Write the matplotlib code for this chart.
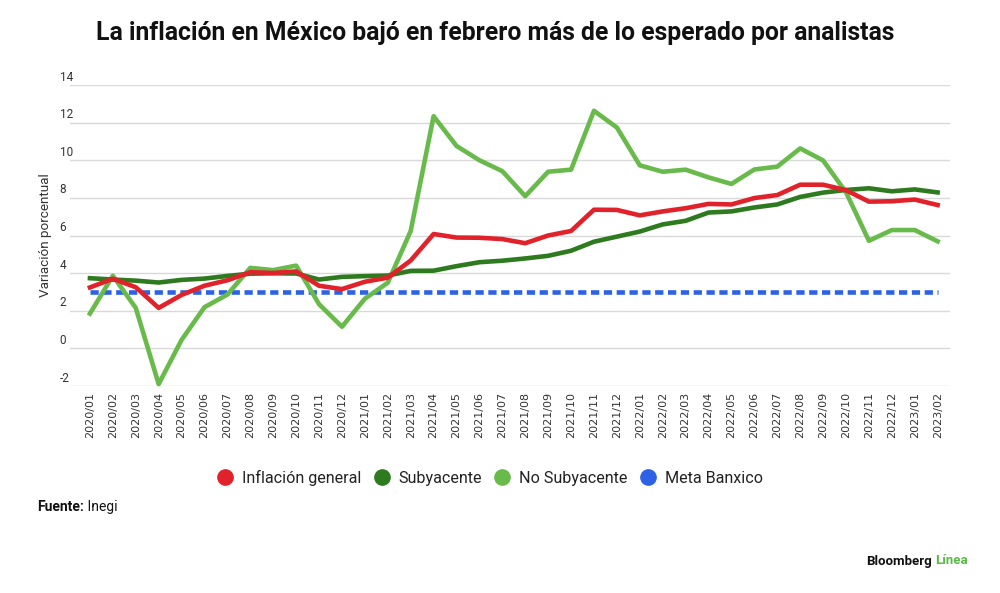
import matplotlib
matplotlib.use("Agg")
import matplotlib.pyplot as plt
from matplotlib.lines import Line2D
import matplotlib.transforms as mtransforms

months = ["2020/01","2020/02","2020/03","2020/04","2020/05","2020/06","2020/07","2020/08",
          "2020/09","2020/10","2020/11","2020/12","2021/01","2021/02","2021/03","2021/04",
          "2021/05","2021/06","2021/07","2021/08","2021/09","2021/10","2021/11","2021/12",
          "2022/01","2022/02","2022/03","2022/04","2022/05","2022/06","2022/07","2022/08",
          "2022/09","2022/10","2022/11","2022/12","2023/01","2023/02"]

inflacion_general = [3.24, 3.70, 3.25, 2.15, 2.84, 3.33, 3.62, 4.05, 4.01, 4.09, 3.33, 3.15,
                     3.54, 3.76, 4.67, 6.08, 5.89, 5.88, 5.81, 5.59, 6.00, 6.24, 7.37, 7.36,
                     7.07, 7.28, 7.45, 7.68, 7.65, 7.99, 8.15, 8.70, 8.70, 8.41, 7.80, 7.82,
                     7.91, 7.62]

subyacente = [3.73, 3.66, 3.60, 3.50, 3.64, 3.71, 3.85, 3.97, 3.99, 3.98, 3.66, 3.80,
              3.84, 3.87, 4.12, 4.13, 4.37, 4.58, 4.66, 4.78, 4.92, 5.19, 5.67, 5.94,
              6.21, 6.59, 6.78, 7.22, 7.28, 7.49, 7.65, 8.05, 8.28, 8.42, 8.51, 8.35,
              8.45, 8.29]

no_subyacente = [1.85, 3.86, 2.15, -1.90, 0.45, 2.19, 2.86, 4.28, 4.16, 4.40, 2.35, 1.15,
                 2.64, 3.49, 6.24, 12.34, 10.76, 10.00, 9.42, 8.09, 9.39, 9.50, 12.63, 11.74,
                 9.73, 9.39, 9.50, 9.09, 8.74, 9.51, 9.66, 10.63, 9.99, 8.30, 5.72, 6.29,
                 6.29, 5.69]

meta_banxico = [3.0] * len(months)

y_ticks = [-2, 0, 2, 4, 6, 8, 10, 12, 14]
series_names = ["Inflación general", "Subyacente", "No Subyacente", "Meta Banxico"]

RED = "#e2222b"
DGREEN = "#2e7b1f"
LGREEN = "#68bb4b"
BLUE = "#2d62e6"
GRID = "#d9d9d9"
TXT = "#333333"

plt.rcParams['font.family'] = ['Roboto', 'DejaVu Sans']

fig = plt.figure(figsize=(10, 5.93), dpi=100)
ax = fig.add_axes([0.07, 1 - 386/593, 0.88, (386 - 85)/593])

x = list(range(len(months)))
lw = 3.3
ax.plot(x, meta_banxico, color=BLUE, lw=lw, dashes=(1.8, 1.0), solid_capstyle='butt', zorder=2)
ax.plot(x, no_subyacente, color=LGREEN, lw=lw, solid_joinstyle='round', zorder=3, clip_on=False)
ax.plot(x, subyacente, color=DGREEN, lw=lw, solid_joinstyle='round', zorder=4, clip_on=False)
ax.plot(x, inflacion_general, color=RED, lw=lw, solid_joinstyle='round', zorder=5, clip_on=False)

ax.set_xlim(-0.87, len(months) - 1 + 0.54)
ax.set_ylim(-2, 14)

ax.set_yticks(y_ticks)
ax.set_yticklabels([str(t) for t in y_ticks])
ax.grid(axis='y', color=GRID, lw=1.0, zorder=0)
ax.set_axisbelow(True)
for s in ax.spines.values():
    s.set_visible(False)
ax.tick_params(axis='y', length=0, pad=7.5, labelsize=8.5, labelcolor=TXT)
offset = mtransforms.ScaledTranslation(0, 1/72, fig.dpi_scale_trans)
for lab in ax.get_yticklabels():
    lab.set_ha('left')
    lab.set_va('bottom')
    lab.set_transform(lab.get_transform() + offset)

ax.set_xticks(x)
ax.set_xticklabels(months, rotation=90, fontsize=8, color=TXT, family='DejaVu Sans')
ax.tick_params(axis='x', length=0, pad=4)

fig.text(0.045, 1 - 235/593, "Variación porcentual", rotation=90, ha='center', va='center',
         fontsize=9.7, color=TXT)

fig.text(0.495, 1 - 33/593, "La inflación en México bajó en febrero más de lo esperado por analistas",
         ha='center', va='center', fontsize=17.8, fontweight='bold', color='#111111')

handles = [Line2D([], [], marker='o', ls='none', markersize=11, markerfacecolor=c, markeredgecolor=c)
           for c in [RED, DGREEN, LGREEN, BLUE]]
fig.legend(handles, series_names, loc='center', bbox_to_anchor=(0.49, 1 - 478/593), ncol=4,
           frameon=False, fontsize=11.6, handletextpad=0.55, columnspacing=0.75, handlelength=1.0,
           labelcolor='#222222')

t1 = fig.text(0.037, 1 - 507/593, "Fuente:", ha='left', va='center', fontsize=10,
              fontweight='bold', color='#111111')
t1b = fig.text(0, 0, " Inegi", fontsize=10, color='#111111', va='bottom', ha='left')
fig.canvas.draw()
bb = t1.get_window_extent()
t1b.set_position((bb.x1 / fig.bbox.width, bb.y0 / fig.bbox.height))

t2 = fig.text(0.968, 1 - 561/593, "Línea", ha='right', va='center', fontsize=9.5,
              fontweight='bold', color='#5cb84a')
fig.canvas.draw()
bb2 = t2.get_window_extent()
fig.text((bb2.x0 - 3) / fig.bbox.width, bb2.y0 / fig.bbox.height, "Bloomberg", ha='right',
         va='bottom', fontsize=9.5, fontweight='bold', color='#111111')

fig.savefig("out.png", dpi=100, facecolor='white')
